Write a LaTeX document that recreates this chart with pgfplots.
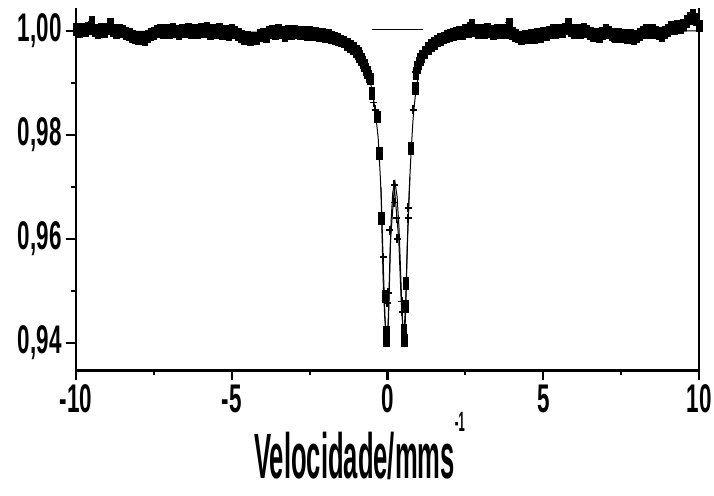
\documentclass[border=0pt]{standalone}
\usepackage{fontspec}
\setmainfont{Liberation Sans}[FakeStretch=0.56]
\newfontfamily\labelfont{Liberation Sans}[FakeStretch=0.40]
\usepackage{pgfplots}
\pgfplotsset{compat=1.18}
\begin{document}
\begin{tikzpicture}
\useasboundingbox (-76pt,-125pt) rectangle (638pt,370pt);
\begin{axis}[
  scale only axis, width=623pt, height=362pt,
  at={(0,0)}, anchor=south west,
  xmin=-10, xmax=10, ymin=0.9348, ymax=1.0044,
  clip=false,
  axis line style={draw=none},
  xtick pos=bottom, ytick pos=left,
  tick align=outside,
  xtick={-10,-5,0,5,10}, xticklabels={-10,-5,0,5,10},
  minor xtick={-7.5,-2.5,2.5,7.5},
  ytick={0.94,0.96,0.98,1.00}, yticklabels={{0,94},{0,96},{0,98},{1,00}},
  minor ytick={0.95,0.97,0.99},
  major tick length=10pt, minor tick length=5pt,
  major tick style={line width=2.4pt, black},
  minor tick style={line width=2pt, black},
  tick label style={font=\fontsize{40}{40}\selectfont\bfseries},
  xticklabel style={yshift=-1pt},
  yticklabel style={xshift=-1pt},
  xlabel={\labelfont\bfseries\fontsize{64}{64}\selectfont Velocidade/mms\raisebox{47pt}{\fontsize{28}{28}\selectfont -1}},
  xlabel style={at={(axis description cs:0.455,0)}, anchor=base, yshift=-108pt, inner sep=0pt},
]
% fitted curve
\addplot[black, line width=1pt, mark=none] coordinates {
(-10,1.0000) (-3,0.9997) (-2,0.9992) (-1.5,0.9984) (-1.0,0.9962) (-0.8,0.9942)
(-0.6,0.9912) (-0.5,0.9888) (-0.4,0.9850) (-0.3,0.9795) (-0.24,0.9730) (-0.2,0.9680)
(-0.16,0.9600) (-0.12,0.9520) (-0.08,0.9450) (-0.04,0.9405) (-0.02,0.9400) (0.01,0.9420)
(0.04,0.9480) (0.08,0.9570) (0.12,0.9640) (0.17,0.9690) (0.24,0.9710) (0.31,0.9680)
(0.37,0.9620) (0.42,0.9540) (0.46,0.9470) (0.50,0.9415) (0.53,0.9400) (0.56,0.9420)
(0.59,0.9480) (0.63,0.9570) (0.67,0.9650) (0.71,0.9710) (0.76,0.9770) (0.82,0.9830)
(0.9,0.9880) (1.0,0.9918) (1.2,0.9950) (1.5,0.9972) (2.0,0.9988) (3.0,0.9996) (10,1.0000)};
\addplot[black, line width=1pt, mark=none] coordinates {
(-0.21,0.9700) (-0.18,0.9620) (-0.14,0.9520) (-0.09,0.9450) (-0.04,0.9410) (0.03,0.9440)
(0.10,0.9600) (0.22,0.9700) (0.36,0.9600) (0.44,0.9480) (0.52,0.9410) (0.58,0.9470)
(0.64,0.9600) (0.72,0.9720)};
\addplot[black, line width=1.2pt, mark=none] coordinates {(-0.5,1.0002) (1.14,1.0002)};
% data, squares
\addplot[only marks, mark=square*, mark size=2.8pt, mark options={yscale=2.1, black}] coordinates {
(-10.0,1.0003) (-9.9,0.9999) (-9.8,1.0004) (-9.7,1.0001) (-9.6,1.0005) (-9.5,1.0016)
(-9.4,1.0002) (-9.3,0.9998) (-9.2,1.0003) (-9.1,1.0000) (-9.0,1.0004) (-8.9,1.0014)
(-8.8,1.0001) (-8.7,0.9997) (-8.6,1.0002) (-8.5,0.9999) (-8.4,0.9996) (-8.3,0.9993)
(-8.2,0.9990) (-8.1,0.9988) (-8.0,0.9985) (-7.9,0.9989) (-7.8,0.9983) (-7.7,0.9990)
(-7.6,0.9993) (-7.5,0.9996) (-7.4,0.9999) (-7.3,1.0002) (-7.2,0.9998) (-7.1,1.0001)
(-7.0,0.9997) (-6.9,1.0003) (-6.8,1.0000) (-6.7,0.9996) (-6.6,1.0002) (-6.5,0.9999)
(-6.4,1.0004) (-6.3,0.9998) (-6.2,1.0001) (-6.1,0.9997) (-6.0,1.0003) (-5.9,0.9999)
(-5.8,1.0005) (-5.7,0.9995) (-5.6,1.0001) (-5.5,0.9998) (-5.4,1.0003) (-5.3,0.9996)
(-5.2,1.0000) (-5.1,0.9994) (-5.0,1.0002) (-4.9,0.9997) (-4.8,0.9993) (-4.7,0.9990)
(-4.6,0.9986) (-4.5,0.9988) (-4.4,0.9984) (-4.3,0.9987) (-4.2,0.9985) (-4.1,0.9991)
(-4.0,0.9994) (-3.9,0.9990) (-3.8,0.9997) (-3.7,0.9999) (-3.6,0.9996) (-3.5,1.0001)
(-3.4,0.9998) (-3.3,0.9991) (-3.2,0.9999) (-3.1,0.9996) (-3.0,1.0000) (-2.9,0.9997)
(-2.8,0.9995) (-2.7,0.9998) (-2.6,0.9994) (-2.5,0.9997) (-2.4,0.9993) (-2.3,0.9996)
(-2.2,0.9992) (-2.1,0.9994)
(-2.0,0.9990) (-1.9,0.9992) (-1.8,0.9988) (-1.7,0.9986) (-1.6,0.9984) (-1.5,0.9981)
(-1.4,0.9979) (-1.3,0.9975) (-1.2,0.9971) (-1.1,0.9966) (-1.0,0.9961) (-0.95,0.9957)
(-0.9,0.9952) (-0.85,0.9946) (-0.8,0.9940) (-0.75,0.9934) (-0.7,0.9927) (-0.65,0.9920)
(-0.6,0.9913) (-0.56,0.9908) (-0.51,0.9880) (-0.34,0.9835) (-0.27,0.9765)
(-0.21,0.9640) (-0.08,0.9490) (-0.05,0.9420) (-0.04,0.9405)
(0.53,0.9405) (0.52,0.9425) (0.56,0.9470) (0.59,0.9515) (0.75,0.9775) (0.88,0.9890)
(0.90,0.9918) (0.95,0.9930) (1.0,0.9938) (1.05,0.9945) (1.1,0.9951) (1.2,0.9959)
(1.3,0.9966) (1.4,0.9972) (1.5,0.9977) (1.6,0.9981) (1.7,0.9984) (1.8,0.9987)
(1.9,0.9990) (2.0,0.9992) (2.1,0.9994)
(2.2,0.9995) (2.3,0.9998) (2.4,0.9996) (2.5,1.0001) (2.6,0.9999) (2.7,1.0012)
(2.8,1.0002) (2.9,0.9997) (3.0,1.0001) (3.1,0.9998) (3.2,1.0003) (3.3,0.9999)
(3.4,0.9996) (3.5,1.0002) (3.6,0.9998) (3.7,1.0001) (3.8,0.9997) (3.9,1.0013)
(4.0,0.9995) (4.1,0.9992) (4.2,0.9989) (4.3,0.9986) (4.4,0.9990) (4.5,0.9987)
(4.6,0.9991) (4.7,0.9988) (4.8,0.9993) (4.9,0.9990) (5.0,0.9996) (5.1,0.9993)
(5.2,0.9998) (5.3,1.0001) (5.4,0.9997) (5.5,1.0002) (5.6,0.9999) (5.7,1.0004)
(5.8,1.0014) (5.9,1.0001) (6.0,0.9997) (6.1,1.0002) (6.2,0.9998) (6.3,1.0003)
(6.4,0.9999) (6.5,0.9996) (6.6,0.9991) (6.7,0.9994) (6.8,0.9990) (6.9,0.9996)
(7.0,1.0001) (7.1,0.9997) (7.2,0.9994) (7.3,0.9990) (7.4,0.9993) (7.5,0.9989)
(7.6,0.9992) (7.7,0.9987) (7.8,0.9991) (7.9,0.9986) (8.0,0.9990) (8.1,0.9994)
(8.2,0.9998) (8.3,1.0001) (8.4,0.9997) (8.5,1.0002) (8.6,0.9998) (8.7,0.9995)
(8.8,0.9991) (8.9,0.9997) (9.0,1.0002) (9.1,1.0007) (9.2,1.0004) (9.3,1.0009)
(9.4,1.0006) (9.5,1.0012) (9.6,1.0018) (9.7,1.0024) (9.8,1.0030) (9.9,1.0022)
(10.0,1.0010)};
% data, crosses
\addplot[only marks, mark=+, mark size=3.5pt, mark options={line width=1.6pt, yscale=1.3, black}] coordinates {
(-0.45,0.9862) (-0.40,0.9848) (-0.14,0.9565) (-0.01,0.9477) (0.02,0.9496) (0.08,0.9617)
(0.21,0.9704) (0.21,0.9670) (0.29,0.9640) (0.31,0.9600) (0.46,0.9480) (0.47,0.9460)
(0.66,0.9660) (0.66,0.9640) (0.82,0.9848) (0.89,0.9921) (-3.3,0.9989) (-8.9,1.0012)
(2.65,1.0015) (5.8,1.0016) (7.2,0.9988) (-7.8,0.9982) (4.5,0.9985) (-9.5,1.0018)
(3.9,1.0016) (6.7,0.9988) (-4.4,0.9982) (8.8,0.9989)};
% axis lines: left, bottom, right (no top)
\draw[line width=2pt] (rel axis cs:0,1) -- (rel axis cs:0,0);
\draw[line width=2pt] (rel axis cs:1,0) -- (rel axis cs:1,1);
\draw[line width=3pt] (rel axis cs:0,0) -- (rel axis cs:1,0);
\end{axis}
\end{tikzpicture}
\end{document}
